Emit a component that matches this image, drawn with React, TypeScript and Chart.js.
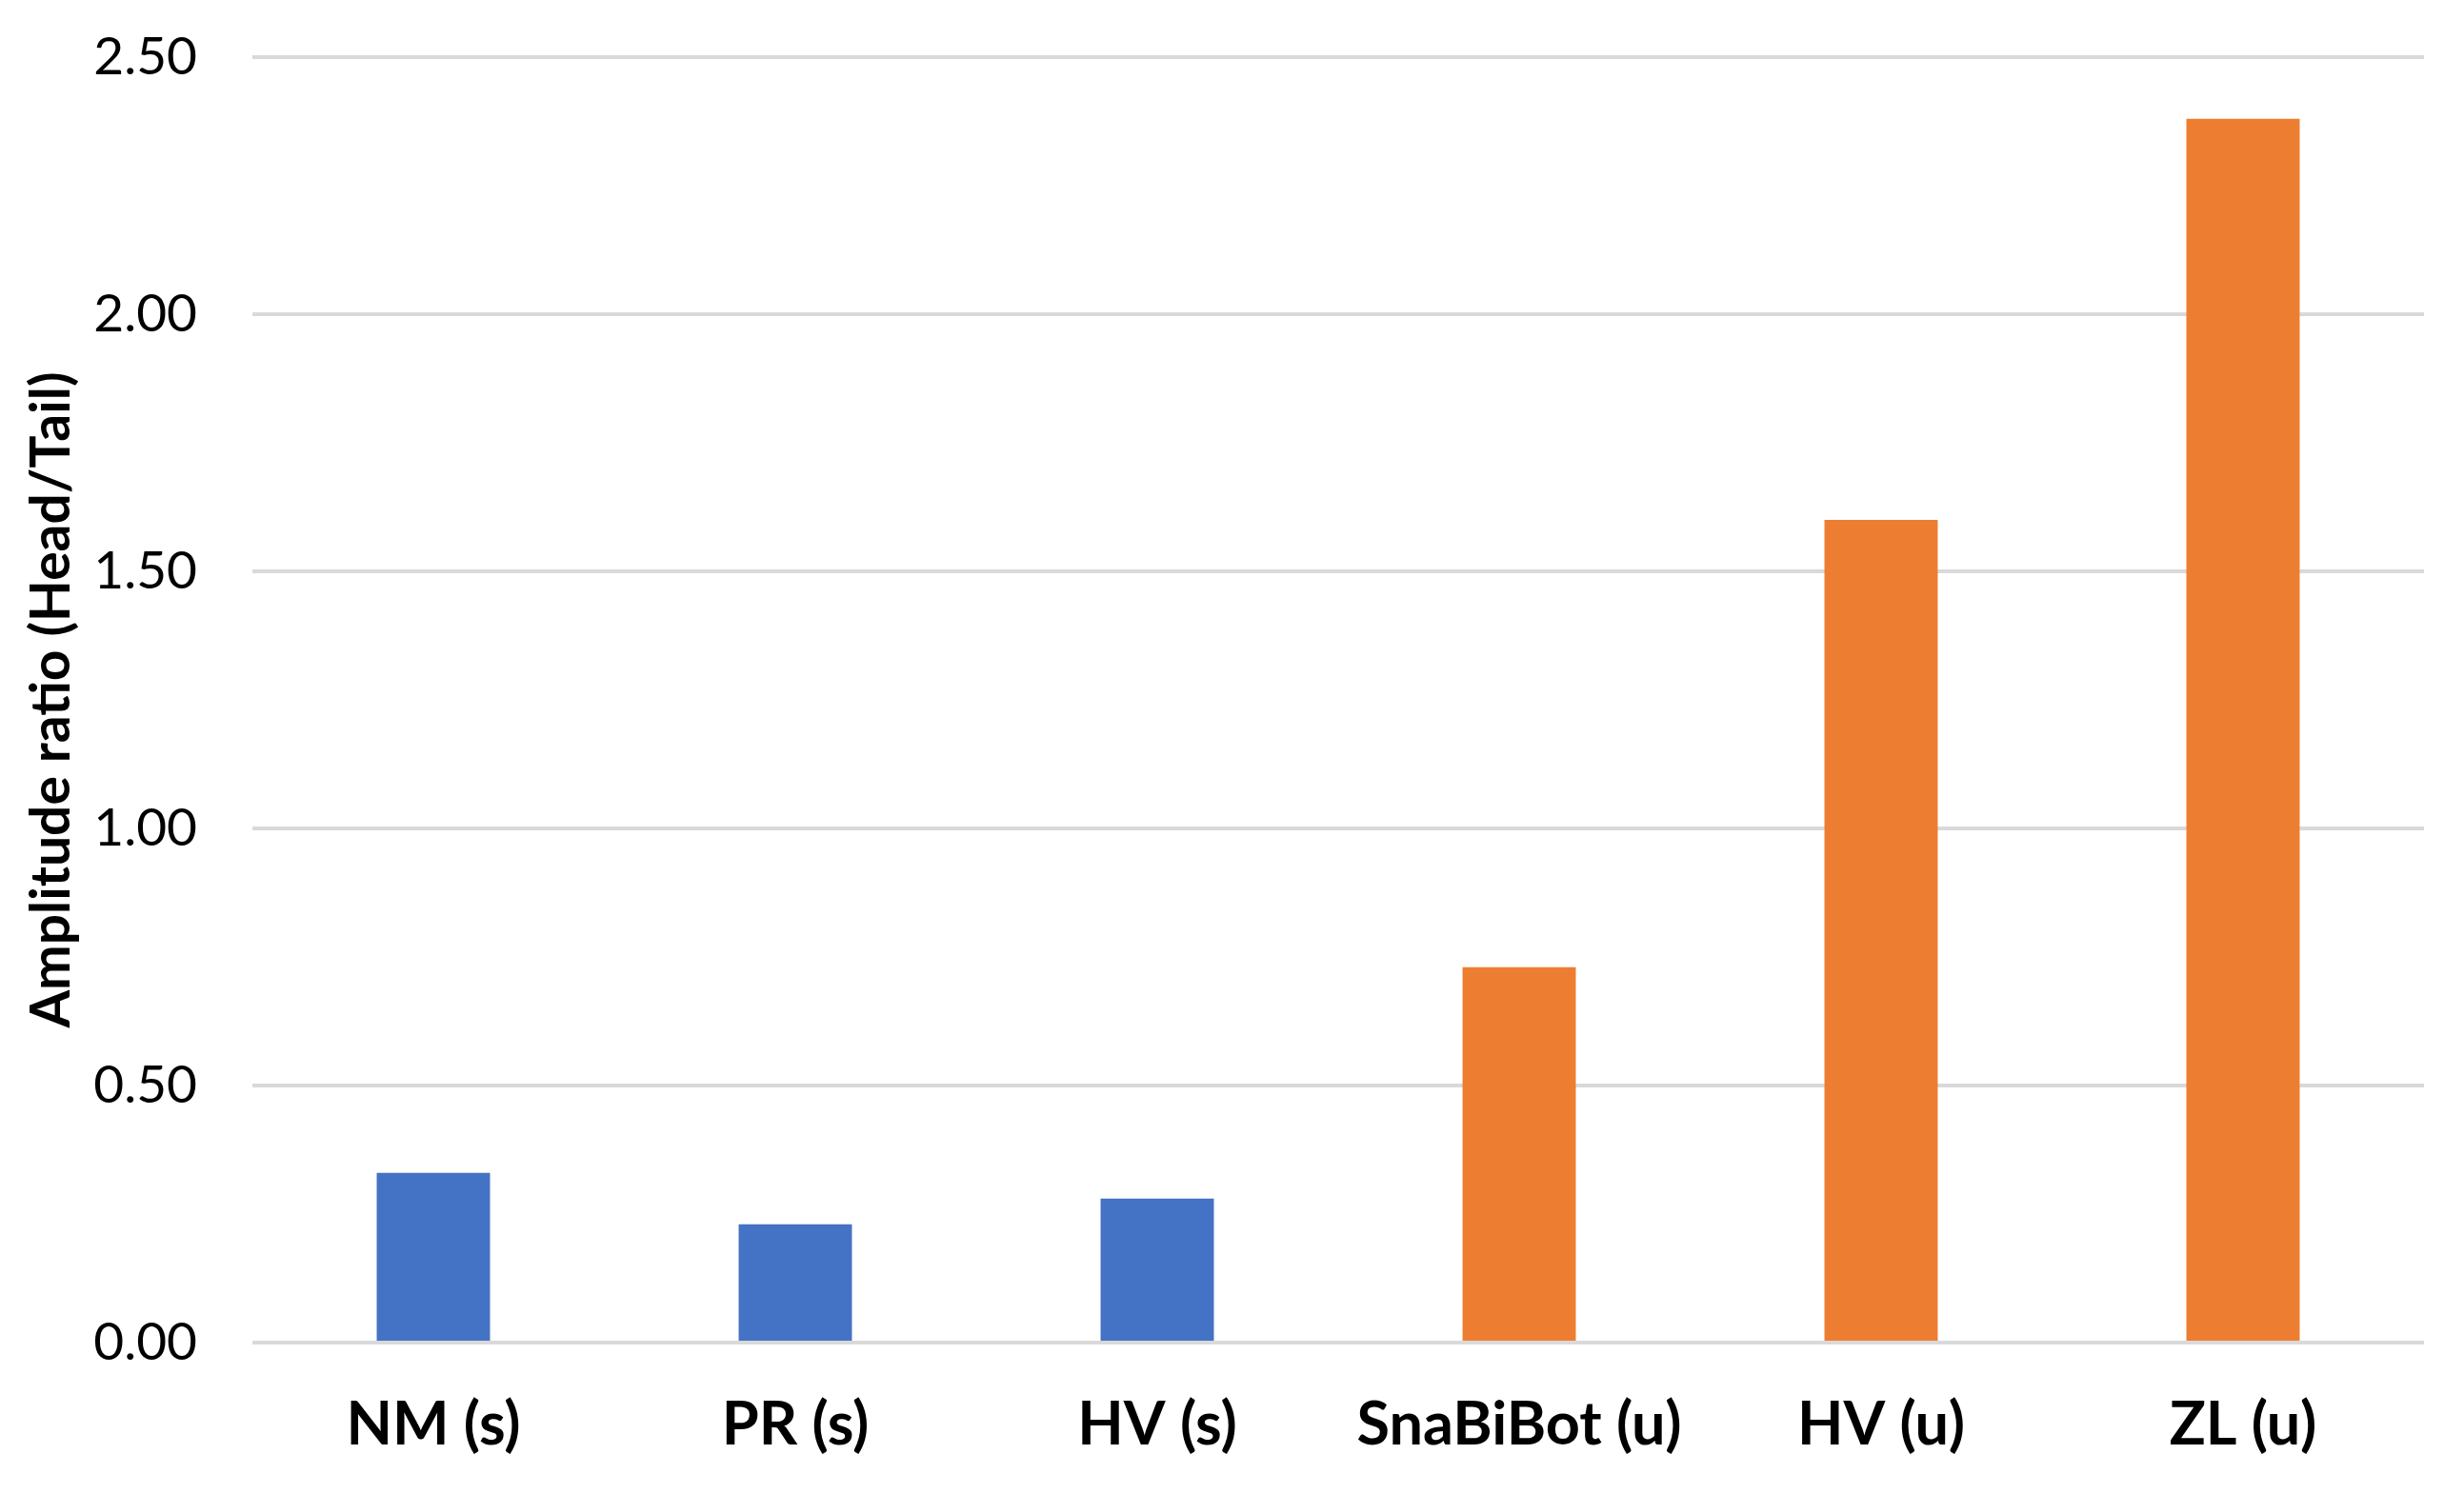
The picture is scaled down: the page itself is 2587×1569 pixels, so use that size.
import React, { useEffect, useRef } from "react";
import { Chart, registerables } from "chart.js";

Chart.register(...registerables);

const categories = ["NM (s)", "PR (s)", "HV (s)", "SnaBiBot (u)", "HV (u)", "ZL (u)"];
const values = [0.33, 0.23, 0.28, 0.73, 1.6, 2.38];
const barColors = ["#4472C4", "#4472C4", "#4472C4", "#ED7D31", "#ED7D31", "#ED7D31"];
const yTicks = [0, 0.5, 1.0, 1.5, 2.0, 2.5];
const yTitle = "Amplitude ratio (Head/Tail)";

const FONT = "Lato, 'Liberation Sans', sans-serif";

export default function App() {
  const ref = useRef<HTMLCanvasElement | null>(null);

  useEffect(() => {
    document.body.style.margin = "0";
    const ctx = ref.current;
    if (!ctx) return;
    const chart = new Chart(ctx, {
      type: "bar",
      data: {
        labels: categories,
        datasets: [
          {
            data: values,
            backgroundColor: barColors,
            borderWidth: 0,
            categoryPercentage: 1,
            barPercentage: 0.313,
          },
        ],
      },
      options: {
        animation: false,
        responsive: true,
        maintainAspectRatio: false,
        devicePixelRatio: 1,
        layout: { padding: { left: 0, right: 42, top: 60, bottom: 34 } },
        plugins: { legend: { display: false }, tooltip: { enabled: false } },
        scales: {
          x: {
            grid: { display: false, drawTicks: false },
            border: { display: false },
            afterFit: (scale: any) => {
              scale.height = 125;
              scale.paddingLeft = 0;
              scale.paddingRight = 0;
            },
            ticks: {
              padding: 49,
              color: "#000",
              font: { family: FONT, size: 63, weight: "bold" },
              maxRotation: 0,
            },
          },
          y: {
            min: 0,
            max: 2.5,
            afterBuildTicks: (scale: any) => {
              scale.ticks = yTicks.map((v) => ({ value: v }));
            },
            afterFit: (scale: any) => {
              scale.width = 265;
              scale.paddingTop = 0;
              scale.paddingBottom = 0;
            },
            grid: { color: "#D9D9D9", lineWidth: 4, drawTicks: false },
            border: { display: false },
            ticks: {
              padding: 58,
              color: "#000",
              font: { family: FONT, size: 55 },
              callback: (v: any) => Number(v).toFixed(2),
            },
            title: {
              display: true,
              text: yTitle,
              color: "#000",
              padding: { top: 20, bottom: 0 },
              font: { family: FONT, size: 57, weight: "bold" },
            },
          },
        },
      },
    });
    return () => chart.destroy();
  }, []);

  return (
    <div style={{ position: "fixed", left: 0, top: 0, width: 2587, height: 1569, background: "#fff" }}>
      <canvas ref={ref} />
    </div>
  );
}
